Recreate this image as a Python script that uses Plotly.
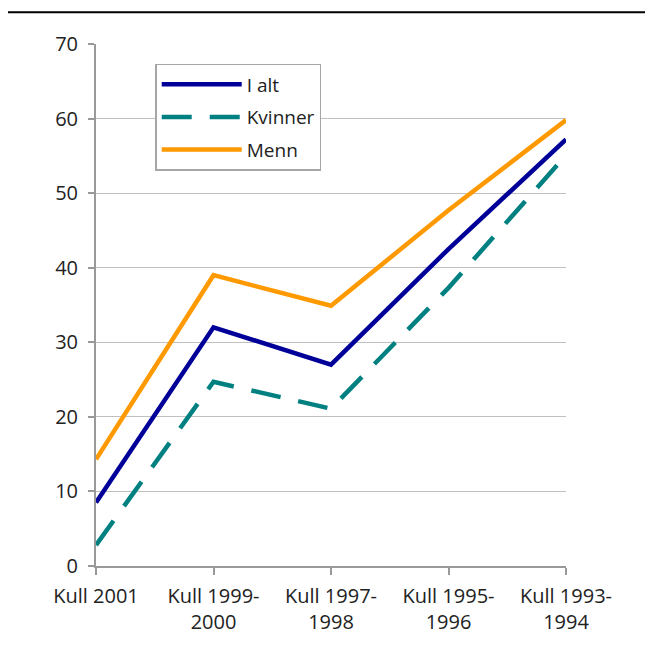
import plotly.graph_objects as go

# ── Data ─────────────────────────────────────────────
kull = ["Kull 2001", "Kull 1999-<br>2000", "Kull 1997-<br>1998",
        "Kull 1995-<br>1996", "Kull 1993-<br>1994"]
i_alt = [8.5, 32.0, 27.0, 42.5, 57.2]
kvinner = [2.8, 24.7, 21.1, 37.3, 55.1]
menn = [14.3, 39.0, 34.9, 47.7, 59.8]

FONT = "Open Sans"

fig = go.Figure()
fig.add_trace(go.Scatter(x=kull, y=i_alt, name="I alt", mode="lines",
                         legendgroup="a",
                         line=dict(color="#000099", width=4.5)))
fig.add_trace(go.Scatter(x=kull, y=kvinner, name="Kvinner", mode="lines",
                         legendgroup="b",
                         line=dict(color="#008080", width=4.5, dash="30px,18px")))
fig.add_trace(go.Scatter(x=kull, y=menn, name="Menn", mode="lines",
                         legendgroup="c",
                         line=dict(color="#FF9900", width=4.5)))

# page body has an 8px margin, so margins are shifted by 8
fig.update_layout(
    width=653, height=653,
    margin=dict(l=88, r=95, t=36, b=95),
    paper_bgcolor="white", plot_bgcolor="white",
    font=dict(family=FONT, size=20, color="#222"),
    showlegend=True,
    legend=dict(
        x=0.126, y=0.962, xanchor="left", yanchor="top",
        bgcolor="white", bordercolor="#a6a6a6", borderwidth=1.5,
        traceorder="grouped", tracegroupgap=5, itemwidth=80,
        font=dict(family=FONT, size=19, color="#222"),
    ),
    shapes=[dict(type="line", xref="paper", yref="paper",
                 x0=-0.19, x1=1.2, y0=1.061, y1=1.061,
                 line=dict(color="black", width=2))],
)

fig.update_xaxes(
    type="category", range=[0, 4],
    showgrid=False, zeroline=False,
    showline=True, linecolor="#999", linewidth=2,
    ticks="outside", ticklen=7, tickcolor="#999", tickwidth=2,
    ticklabelstandoff=4,
    tickfont=dict(family=FONT, size=20, color="#222"),
)
fig.update_yaxes(
    range=[0, 70], dtick=10,
    showgrid=True, gridcolor="#c0c0c0", gridwidth=1,
    zeroline=False,
    showline=True, linecolor="#999", linewidth=2,
    ticks="outside", ticklen=6, tickcolor="#999", tickwidth=2,
    ticklabelstandoff=6,
    tickfont=dict(family=FONT, size=20, color="#222"),
)

fig.write_html("out.html")
